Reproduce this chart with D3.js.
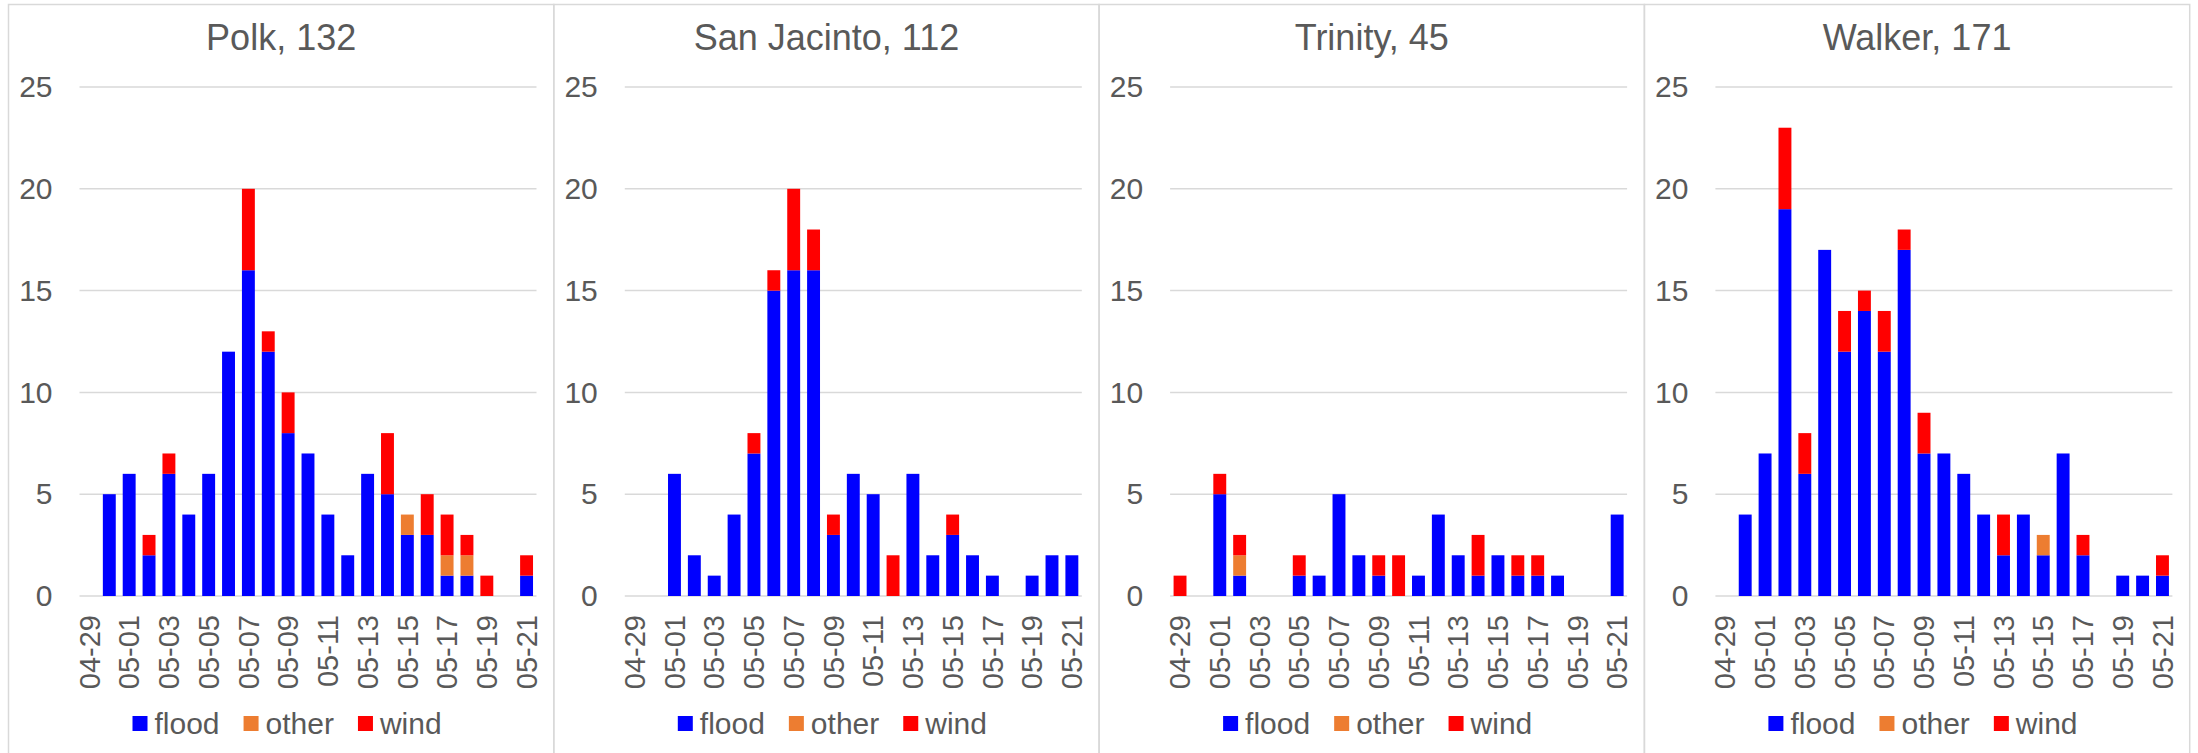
<!DOCTYPE html>
<html lang="en">
<head>
<meta charset="utf-8">
<title>Reports by day and type per county</title>
<script src="https://cdn.jsdelivr.net/npm/d3@7"></script>
<style>
  body { margin: 0; background: #fff; }
  text { font-family: "Liberation Sans", Arial, sans-serif; fill: #595959; }
</style>
</head>
<body>
<script>
// days shown on every panel
var dates = ["04-29","04-30","05-01","05-02","05-03","05-04","05-05","05-06","05-07","05-08",
             "05-09","05-10","05-11","05-12","05-13","05-14","05-15","05-16","05-17","05-18",
             "05-19","05-20","05-21"];
var tickDates = ["04-29","05-01","05-03","05-05","05-07","05-09","05-11","05-13","05-15","05-17","05-19","05-21"];
var yTicks = [0, 5, 10, 15, 20, 25];

var counties = ["Polk", "San Jacinto", "Trinity", "Walker"];
var types = ["flood", "other", "wind"];
var typeColors = ["#0000ff", "#ed7d31", "#ff0000"];

var polkFlood  = [0,5,6,2,6,4,6,12,16,12,8,7,4,2,6,5,3,3,1,1,0,0,1];
var polkOther  = [0,0,0,0,0,0,0,0,0,0,0,0,0,0,0,0,1,0,1,1,0,0,0];
var polkWind   = [0,0,0,1,1,0,0,0,4,1,2,0,0,0,0,3,0,2,2,1,1,0,1];

var sanJacFlood = [0,0,6,2,1,4,7,15,16,16,3,6,5,0,6,2,3,2,1,0,1,2,2];
var sanJacOther = [0,0,0,0,0,0,0,0,0,0,0,0,0,0,0,0,0,0,0,0,0,0,0];
var sanJacWind  = [0,0,0,0,0,0,1,1,4,2,1,0,0,2,0,0,1,0,0,0,0,0,0];

var trinityFlood = [0,0,5,1,0,0,1,1,5,2,1,0,1,4,2,1,2,1,1,1,0,0,4];
var trinityOther = [0,0,0,1,0,0,0,0,0,0,0,0,0,0,0,0,0,0,0,0,0,0,0];
var trinityWind  = [1,0,1,1,0,0,1,0,0,0,1,2,0,0,0,2,0,1,1,0,0,0,0];

var walkerFlood = [0,4,7,19,6,17,12,14,12,17,7,7,6,4,2,4,2,7,2,0,1,1,1];
var walkerOther = [0,0,0,0,0,0,0,0,0,0,0,0,0,0,0,0,1,0,0,0,0,0,0];
var walkerWind  = [0,0,0,4,2,0,2,1,2,1,2,0,0,0,2,0,0,0,1,0,0,0,1];

var series = [
  [polkFlood, polkOther, polkWind],
  [sanJacFlood, sanJacOther, sanJacWind],
  [trinityFlood, trinityOther, trinityWind],
  [walkerFlood, walkerOther, walkerWind]
];

var W = 2198, H = 753;
var panelW = 545.3, panelX0 = 8.5;
var plotL = 71, plotW = 457, plotTop = 87, plotBottom = 596;

var svg = d3.select("body").append("svg")
  .attr("width", W)
  .attr("height", H);

var x = d3.scaleBand().domain(dates).range([0, plotW]).paddingInner(0.35).paddingOuter(0.175);
var y = d3.scaleLinear().domain([0, 25]).range([plotBottom, plotTop]);
var color = d3.scaleOrdinal().domain(types).range(typeColors);

counties.forEach(function(name, ci) {
  var px = panelX0 + ci * panelW;
  var g = svg.append("g").attr("transform", "translate(" + px + ",0)");

  // frame
  g.append("rect")
    .attr("x", 0).attr("y", 4.5)
    .attr("width", panelW).attr("height", H + 10)
    .attr("fill", "none").attr("stroke", "#d9d9d9").attr("stroke-width", 1.5);

  // build rows for stacking
  var rows = dates.map(function(d, i) {
    var r = { date: d };
    types.forEach(function(t, ti) { r[t] = series[ci][ti][i]; });
    return r;
  });
  var total = d3.sum(rows, function(r) { return r.flood + r.other + r.wind; });

  g.append("text")
    .attr("x", panelW / 2).attr("y", 50)
    .attr("text-anchor", "middle")
    .style("font-size", "36px")
    .text(name + ", " + total);

  var plot = g.append("g").attr("transform", "translate(" + plotL + ",0)");

  // gridlines
  plot.append("g")
    .selectAll("line").data(yTicks).enter().append("line")
    .attr("x1", 0).attr("x2", plotW)
    .attr("y1", function(d) { return y(d); })
    .attr("y2", function(d) { return y(d); })
    .attr("stroke", "#d9d9d9").attr("stroke-width", 1.5);

  // y axis labels
  var yAxis = plot.append("g")
    .call(d3.axisLeft(y).tickValues(yTicks).tickSize(0).tickPadding(27));
  yAxis.select(".domain").remove();
  yAxis.selectAll("text").style("font-size", "30px").attr("fill", "#595959");

  // stacked bars
  var stack = d3.stack().keys(types)(rows);
  plot.append("g")
    .selectAll("g").data(stack).enter().append("g")
    .attr("fill", function(s) { return color(s.key); })
    .selectAll("rect").data(function(s) { return s; }).enter().append("rect")
    .filter(function(d) { return d[1] - d[0] > 0; })
    .attr("x", function(d) { return x(d.data.date); })
    .attr("width", x.bandwidth())
    .attr("y", function(d) { return y(d[1]); })
    .attr("height", function(d) { return y(d[0]) - y(d[1]); });

  // x axis labels
  var xAxis = plot.append("g")
    .attr("transform", "translate(0," + plotBottom + ")")
    .call(d3.axisBottom(x).tickValues(tickDates).tickSize(0));
  xAxis.select(".domain").remove();
  xAxis.selectAll("text")
    .style("font-size", "29px")
    .attr("fill", "#595959")
    .attr("transform", "rotate(-90)")
    .attr("x", -19).attr("y", 0).attr("dy", "0.35em")
    .attr("text-anchor", "end");

  // legend
  var leg = g.append("g").attr("transform", "translate(124,716)");
  var lx = 0;
  types.forEach(function(t) {
    leg.append("rect")
      .attr("x", lx).attr("y", 0)
      .attr("width", 15).attr("height", 15)
      .attr("fill", color(t));
    var txt = leg.append("text")
      .attr("x", lx + 22).attr("y", 18)
      .style("font-size", "30px")
      .text(t);
    lx += 22 + txt.node().getComputedTextLength() + 24;
  });
});
</script>
</body>
</html>
